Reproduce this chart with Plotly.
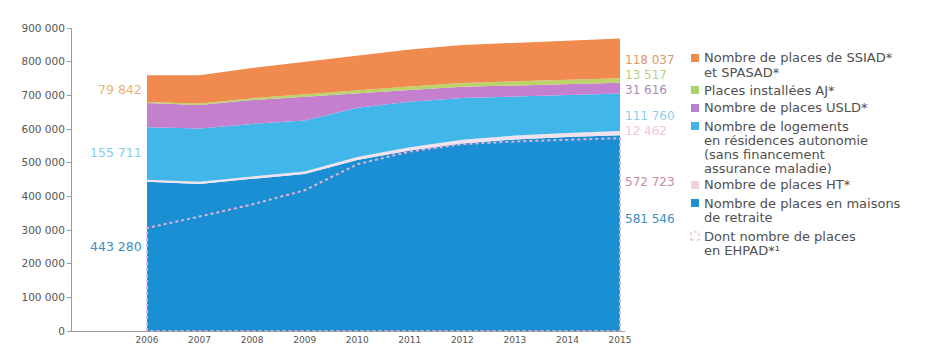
import plotly.graph_objects as go

# Capacity of care places for elderly people, 2006-2015
years = [2006, 2007, 2008, 2009, 2010, 2011, 2012, 2013, 2014, 2015]
maisons_retraite = [443280, 437000, 452000, 466000, 508000, 536000, 557000, 569000, 576000, 581546]
places_ht = [6000, 6500, 7000, 8000, 9000, 10000, 10800, 11500, 12000, 12462]
residences_autonomie = [155711, 158000, 156000, 151000, 146000, 135000, 124000, 116000, 113000, 111760]
places_usld = [72000, 70000, 71000, 71500, 42000, 35000, 33500, 32500, 32000, 31616]
places_aj = [3000, 4000, 5500, 7000, 9000, 10500, 11500, 12300, 13000, 13517]
places_ssiad = [79842, 84000, 90000, 97000, 105000, 110000, 112500, 114500, 117000, 118037]
places_ehpad = [306000, 340000, 376000, 418000, 495000, 533000, 555000, 563000, 568000, 572723]

y_ticks = [0, 100000, 200000, 300000, 400000, 500000, 600000, 700000, 800000, 900000]
y_tick_text = ["0", "100 000", "200 000", "300 000", "400 000", "500 000",
               "600 000", "700 000", "800 000", "900 000"]

series = [
    ("Nombre de places en maisons de retraite", maisons_retraite, "#1b8fd3"),
    ("Nombre de places HT*", places_ht, "#f1e2ee"),
    ("Nombre de logements en résidences autonomie", residences_autonomie, "#41b6e8"),
    ("Nombre de places USLD*", places_usld, "#c47fce"),
    ("Places installées AJ*", places_aj, "#bcd36a"),
    ("Nombre de places de SSIAD* et SPASAD*", places_ssiad, "#f08a4e"),
]

fig = go.Figure()
for name, vals, col in series:
    fig.add_trace(go.Scatter(
        x=years, y=vals, name=name, mode="lines", stackgroup="one",
        line=dict(width=0, color=col), fillcolor=col, showlegend=False,
        hoverinfo="x+y",
    ))

# Dashed outline of the EHPAD share inside the retirement-home area
ehpad_x = [years[0]] + years + [years[-1], years[0]]
ehpad_y = [0] + places_ehpad + [0, 0]
fig.add_trace(go.Scatter(
    x=ehpad_x, y=ehpad_y, mode="lines", showlegend=False,
    line=dict(color="#e3b2da", width=2, dash="3px,3px"), hoverinfo="skip",
))

def fmt(v):
    return f"{v:,}".replace(",", " ")

FONT = "DejaVu Sans"
annotations = []

def value_label(x, y, value, color, anchor, size=12):
    annotations.append(dict(
        x=x, y=y, xref="x", yref="y", text=fmt(value), showarrow=False,
        xanchor=anchor, yanchor="middle", xshift=-3 if anchor == "right" else 3,
        font=dict(family=FONT, size=size, color=color),
    ))

# first-year labels
value_label(2006, 716000, places_ssiad[0], "#e9b27a", "right", 12.5)
value_label(2006, 530000, residences_autonomie[0], "#86cdea", "right", 12.5)
value_label(2006, 251000, maisons_retraite[0], "#3d8fc2", "right", 12.5)
# last-year labels
value_label(2015, 805000, places_ssiad[-1], "#d99a6e", "left")
value_label(2015, 760000, places_aj[-1], "#b9cf7a", "left")
value_label(2015, 717000, places_usld[-1], "#a98cb6", "left")
value_label(2015, 640000, residences_autonomie[-1], "#8fd0ea", "left")
value_label(2015, 594000, places_ht[-1], "#f0c4d6", "left")
value_label(2015, 444000, places_ehpad[-1], "#c48b9c", "left")
value_label(2015, 332000, maisons_retraite[-1], "#3d8fc2", "left")

# legend drawn as swatches and text in paper coordinates
X0, W, Y0, H = 72, 553, 331, 303
def px_x(p):
    return (p - X0) / W
def px_y(p):
    return (Y0 - p) / H

legend_items = [
    ("#f08a4e", ["Nombre de places de SSIAD*", "et SPASAD*"], 58),
    ("#a9d36a", ["Places installées AJ*"], 90),
    ("#b784cf", ["Nombre de places USLD*"], 108),
    ("#41b6e8", ["Nombre de logements", "en résidences autonomie",
                 "(sans financement", "assurance maladie)"], 126),
    ("#f6cfdd", ["Nombre de places HT*"], 185),
    ("#1b8fd3", ["Nombre de places en maisons", "de retraite"], 203),
    (None, ["Dont nombre de places", "en EHPAD*¹"], 236),
]
shapes = []
line_gap = 14.2
for col, lines, top in legend_items:
    if col:
        shapes.append(dict(type="rect", xref="paper", yref="paper",
                           x0=px_x(691), x1=px_x(699), y0=px_y(top + 4), y1=px_y(top - 4),
                           fillcolor=col, line=dict(width=0)))
    else:
        shapes.append(dict(type="rect", xref="paper", yref="paper",
                           x0=px_x(691), x1=px_x(699), y0=px_y(top + 4), y1=px_y(top - 4),
                           fillcolor="rgba(0,0,0,0)",
                           line=dict(width=1, color="#d9a8cc", dash="dot")))
    for i, ln in enumerate(lines):
        annotations.append(dict(
            x=px_x(702), y=px_y(top + i * line_gap), xref="paper", yref="paper",
            text=ln, showarrow=False, xanchor="left", yanchor="middle",
            font=dict(family=FONT, size=13, color="#505050"),
        ))

fig.update_layout(
    width=950, height=348,
    margin=dict(l=X0, r=950 - (X0 + W), t=Y0 - H, b=348 - Y0, autoexpand=False),
    paper_bgcolor="white", plot_bgcolor="white",
    showlegend=False,
    annotations=annotations, shapes=shapes,
    xaxis=dict(
        range=[2004.573, 2015.095], tickvals=years, ticktext=[str(y) for y in years],
        showgrid=False, zeroline=False, showline=True, linecolor="#9a9a9a", linewidth=1,
        ticks="",
        tickfont=dict(family=FONT, size=9, color="#555555"),
    ),
    yaxis=dict(
        range=[0, 900000], tickvals=y_ticks, ticktext=y_tick_text,
        showgrid=False, zeroline=False, showline=True, linecolor="#9a9a9a", linewidth=1,
        ticks="outside", ticklen=4, tickcolor="#9a9a9a",
        tickfont=dict(family=FONT, size=10.5, color="#555555"),
    ),
)

fig.write_html("out.html")
